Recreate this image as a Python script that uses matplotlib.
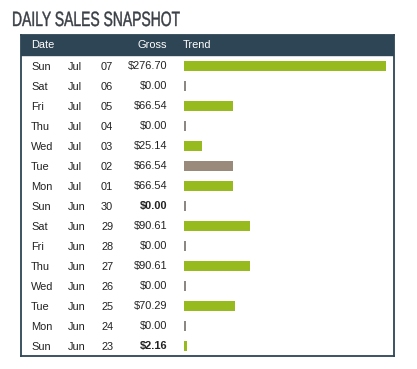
import matplotlib
matplotlib.use("Agg")
import matplotlib.pyplot as plt
from matplotlib.patches import Rectangle
from matplotlib.patheffects import AbstractPathEffect
from matplotlib.transforms import Affine2D

days = ["Sun", "Sat", "Fri", "Thu", "Wed", "Tue", "Mon", "Sun",
        "Sat", "Fri", "Thu", "Wed", "Tue", "Mon", "Sun"]
months = ["Jul"] * 7 + ["Jun"] * 8
dates = ["07", "06", "05", "04", "03", "02", "01", "30",
         "29", "28", "27", "26", "25", "24", "23"]
gross = [276.70, 0.00, 66.54, 0.00, 25.14, 66.54, 66.54, 0.00,
         90.61, 0.00, 90.61, 0.00, 70.29, 0.00, 2.16]
bold_rows = [7, 14]
highlight_row = 5

W, H = 417, 369
DARK = "#2e4555"
GREEN = "#97bb1f"
GRAY = "#8c8782"
BROWN = "#9a8a7c"
TXT = "#222222"
TITLE_C = "#3a3f45"

plt.rcParams["font.family"] = ["Liberation Sans", "DejaVu Sans"]


class Squeeze(AbstractPathEffect):
    # narrows text horizontally around x0 (display pixels), with a light stroke
    def __init__(self, sx, x0, lw, color):
        super().__init__()
        self.sx = sx
        self.x0 = x0
        self.lw = lw
        self.color = color

    def draw_path(self, renderer, gc, tpath, affine, rgbFace=None):
        t = affine + Affine2D().translate(-self.x0, 0).scale(self.sx, 1).translate(self.x0, 0)
        gc0 = renderer.new_gc()
        gc0.copy_properties(gc)
        gc0.set_linewidth(self.lw)
        gc0.set_foreground(self.color)
        renderer.draw_path(gc0, tpath, t, rgbFace)
        gc0.restore()


def px(x0, y0, x1, y1):
    return [x0 / W, 1 - y1 / H, (x1 - x0) / W, (y1 - y0) / H]


fig = plt.figure(figsize=(W / 100, H / 100), dpi=100)

title = fig.text(12 / W, 1 - 26 / H, "DAILY SALES SNAPSHOT", fontsize=14.9,
                 color=TITLE_C, ha="left", va="baseline")
fig.canvas.draw()
tw = title.get_window_extent().width
title.set_path_effects([Squeeze(168 / tw, 12, 0.3, TITLE_C)])

# table frame (pixel units inside)
ax = fig.add_axes(px(21, 35, 394, 356))
ax.set_xlim(0, 373)
ax.set_ylim(321, 0)
ax.set_xticks([])
ax.set_yticks([])
for s in ax.spines.values():
    s.set_color(DARK)
    s.set_linewidth(1.3)
ax.add_patch(Rectangle((0, 0), 373, 20, color=DARK, zorder=2))

fs = 7.9
hy = 10.5
ax.text(10, hy, "Date", color="white", fontsize=fs, va="center", zorder=3)
ax.text(146, hy, "Gross", color="white", fontsize=fs, va="center", ha="right", zorder=3)
ax.text(162, hy, "Trend", color="white", fontsize=fs, va="center", zorder=3)

for i in range(len(days)):
    y = 31.5 + 20 * i
    w = "bold" if i in bold_rows else "normal"
    ax.text(10, y, days[i], color=TXT, fontsize=fs, va="center")
    ax.text(47, y, months[i], color=TXT, fontsize=fs, va="center")
    ax.text(80, y, dates[i], color=TXT, fontsize=fs, va="center")
    ax.text(146, y, "$%.2f" % gross[i], color=TXT, fontsize=fs, va="center",
            ha="right", fontweight=w)

# trend bars
bx = fig.add_axes(px(184, 56, 386, 356))
bx.set_xlim(0, max(gross))
bx.set_ylim(len(gross) - 0.5, -0.5)
bx.axis("off")
bx.patch.set_alpha(0)
min_w = max(gross) / 202 * 2.2
for i, g in enumerate(gross):
    if g == 0:
        bx.barh(i, min_w, height=0.5, color=GRAY, left=0)
    else:
        c = BROWN if i == highlight_row else GREEN
        bx.barh(i, max(g, min_w * 1.3), height=0.5, color=c, left=0)

fig.savefig("out.png", dpi=100)
